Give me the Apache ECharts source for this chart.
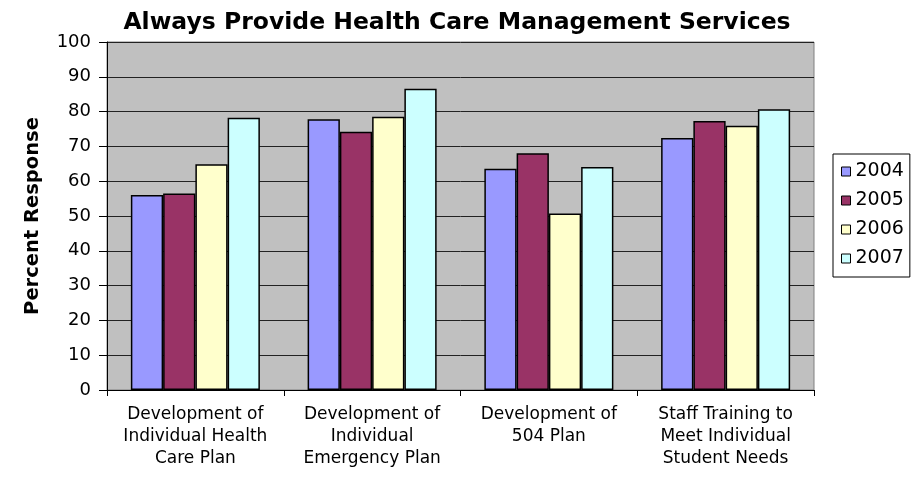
<!DOCTYPE html>
<html>
<head>
<meta charset="utf-8">
<script src="https://cdn.jsdelivr.net/npm/echarts@6/dist/echarts.min.js"></script>
<style>
  html, body { margin: 0; padding: 0; background: #fff; }
  #chart { width: 914px; height: 479px; }
</style>
</head>
<body>
<div id="chart"></div>
<script>
// categories and values
const categories = [
  "Development of\nIndividual Health\nCare Plan",
  "Development of\nIndividual\nEmergency Plan",
  "Development of\n504 Plan",
  "Staff Training to\nMeet Individual\nStudent Needs"
];
const years = ["2004", "2005", "2006", "2007"];
const values2004 = [56.0, 77.8, 63.6, 72.4];
const values2005 = [56.5, 74.2, 68.0, 77.3];
const values2006 = [64.9, 78.5, 50.7, 75.9];
const values2007 = [78.2, 86.6, 64.1, 80.7];
const colors = ["#9999FF", "#993366", "#FFFFCC", "#CCFFFF"];

// the picture's text is wide for its height, DejaVu Sans gets closest
const font = "DejaVu Sans, Liberation Sans, Arial, sans-serif";
const chart = echarts.init(document.getElementById("chart"));

const allValues = [values2004, values2005, values2006, values2007];
const series = years.map((y, i) => ({
  name: y,
  type: "bar",
  data: allValues[i],
  barGap: "0%",
  barCategoryGap: "27%",
  itemStyle: { color: colors[i], borderColor: "#000", borderWidth: 1.5 }
}));

chart.setOption({
  animation: false,
  textStyle: { fontFamily: font },
  title: {
    text: "Always Provide Health Care Management Services",
    left: "center",
    top: 6,
    textStyle: { fontSize: 23.5, fontWeight: "bold", color: "#000", fontFamily: font }
  },
  legend: {
    orient: "vertical",
    left: 833,
    top: 154,
    data: years,
    itemWidth: 9,
    itemHeight: 9,
    itemGap: 10,
    padding: [8, 6, 9, 8],
    borderColor: "#000",
    borderWidth: 1,
    icon: "rect",
    itemStyle: { borderColor: "#000", borderWidth: 1 },
    textStyle: { fontSize: 19, lineHeight: 19, color: "#000", fontFamily: font }
  },
  grid: {
    left: 107,
    right: 100,
    top: 42,
    bottom: 89,
    show: true,
    backgroundColor: "#C0C0C0",
    borderColor: "#808080",
    borderWidth: 1
  },
  xAxis: {
    type: "category",
    data: categories,
    axisLine: { lineStyle: { color: "#000", width: 1 } },
    axisTick: { show: true, length: 6, lineStyle: { color: "#000" } },
    axisLabel: {
      interval: 0,
      fontSize: 17,
      lineHeight: 22,
      color: "#000",
      margin: 14,
      fontFamily: font
    }
  },
  yAxis: {
    type: "value",
    min: 0,
    max: 100,
    interval: 10,
    name: "Percent Response",
    nameLocation: "middle",
    nameGap: 64,
    nameTextStyle: { fontSize: 19.5, fontWeight: "bold", color: "#000", fontFamily: font },
    axisLine: { show: true, lineStyle: { color: "#000", width: 1 } },
    axisTick: { show: true, length: 8, lineStyle: { color: "#000" } },
    axisLabel: { fontSize: 18, color: "#000", margin: 16, fontFamily: font },
    splitLine: { show: true, lineStyle: { color: "#222", width: 1 } }
  },
  series: series
});
</script>
</body>
</html>
